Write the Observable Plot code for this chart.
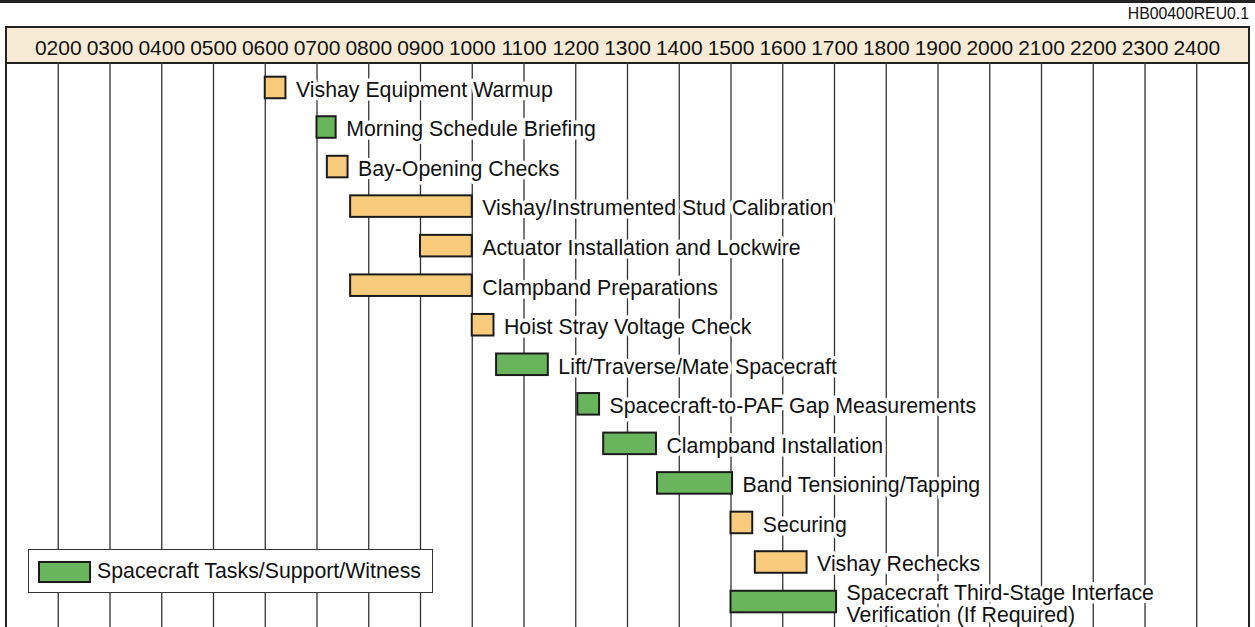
<!DOCTYPE html>
<html>
<head>
<meta charset="utf-8">
<script src="https://cdn.jsdelivr.net/npm/d3@7"></script>
<script src="https://cdn.jsdelivr.net/npm/@observablehq/plot@0.6"></script>
<style>
  html, body { margin: 0; padding: 0; background: #fff; }
  #wrap { position: relative; width: 1255px; height: 627px; overflow: hidden;
          font-family: "Liberation Sans", Arial, Helvetica, sans-serif; color: #111; }
  #topline { position: absolute; left: 0; top: 0; width: 1255px; height: 2.5px; background: #222; }
  #docid { position: absolute; right: 6px; top: 5px; font-size: 15.8px; color: #111; }
  #box { position: absolute; left: 5px; top: 26px; width: 1241px; height: 640px;
         border-left: 2.5px solid #222; border-right: 2.5px solid #222; border-top: 2.5px solid #222; }
  #header { position: absolute; left: 0; top: 0; right: 0; height: 34px; background: #F7EBD5;
            border-bottom: 2.5px solid #222; }
  #chart { position: absolute; left: 0; top: 0; z-index: 1; }
  #legend { position: absolute; z-index: 2; left: 28px; top: 549px; width: 403px; height: 42px;
            background: #fff; border: 1.2px solid #333; }
  #legend .sw { position: absolute; left: 9px; top: 11px; width: 49px; height: 18px;
                background: #68B55C; border: 2px solid #1b1b1b; }
  #legend .lb { position: absolute; left: 68px; top: 9px; font-size: 21.3px; white-space: nowrap; }
</style>
</head>
<body>
<div id="wrap">
  <div id="topline"></div>
  <div id="docid">HB00400REU0.1</div>
  <div id="box"><div id="header"></div></div>
  <div id="chart"></div>
  <div id="legend"><div class="sw"></div><div class="lb">Spacecraft Tasks/Support/Witness</div></div>
</div>
<script>
// ---- data ----
const tasks = [
  "Vishay Equipment Warmup",
  "Morning Schedule Briefing",
  "Bay-Opening Checks",
  "Vishay/Instrumented Stud Calibration",
  "Actuator Installation and Lockwire",
  "Clampband Preparations",
  "Hoist Stray Voltage Check",
  "Lift/Traverse/Mate Spacecraft",
  "Spacecraft-to-PAF Gap Measurements",
  "Clampband Installation",
  "Band Tensioning/Tapping",
  "Securing",
  "Vishay Rechecks",
  "Spacecraft Third-Stage Interface\nVerification (If Required)"
];
const startHours = [6.0, 7.0, 7.2, 7.65, 9.0, 7.65, 10.0, 10.47, 12.04, 12.54, 13.58, 15.0, 15.47, 15.0];
const endHours   = [6.4, 7.37, 7.6, 10.0, 10.0, 10.0, 10.42, 11.47, 12.46, 13.56, 15.03, 15.42, 16.47, 17.04];
const kinds = ["support","spacecraft","support","support","support","support","support",
               "spacecraft","spacecraft","spacecraft","spacecraft","support","support","spacecraft"];
const hourTicks = [2,3,4,5,6,7,8,9,10,11,12,13,14,15,16,17,18,19,20,21,22,23,24];
const hourDomain = [1, 25];

const data = tasks.map((t, i) => ({task: t, start: startHours[i], end: endHours[i], kind: kinds[i]}));

const fmt = h => String(h * 100).padStart(4, "0");

const chart = Plot.plot({
  width: 1255,
  height: 627,
  marginTop: 62,
  marginBottom: 0,
  marginLeft: 6,
  marginRight: 7,
  style: {background: "transparent", fontFamily: "'Liberation Sans', Arial, Helvetica, sans-serif", fontSize: "21px", color: "#111"},
  x: {domain: hourDomain, axis: "top", ticks: hourTicks, tickSize: 0, tickPadding: 8, tickFormat: fmt, label: null},
  y: {type: "band", domain: tasks, paddingInner: 0, paddingOuter: 0.144, round: false, axis: null},
  color: {domain: ["support", "spacecraft"], range: ["#F7CB7B", "#68B55C"]},
  marks: [
    Plot.ruleX(hourTicks, {x: d => d, stroke: "#333", strokeWidth: 1.3}),
    Plot.barX(data, {x1: "start", x2: "end", y: "task", fill: "kind", stroke: "#1b1b1b", strokeWidth: 2,
                     insetTop: 9, insetBottom: 9}),
    Plot.text(data, {x: "end", y: "task", text: "task", dx: 10, dy: 2, textAnchor: "start",
                     lineAnchor: "middle", lineHeight: 1.0, fontSize: 21.3, fill: "#111",
                     stroke: "white", strokeWidth: 7})
  ]
});
document.getElementById("chart").appendChild(chart);
</script>
</body>
</html>
